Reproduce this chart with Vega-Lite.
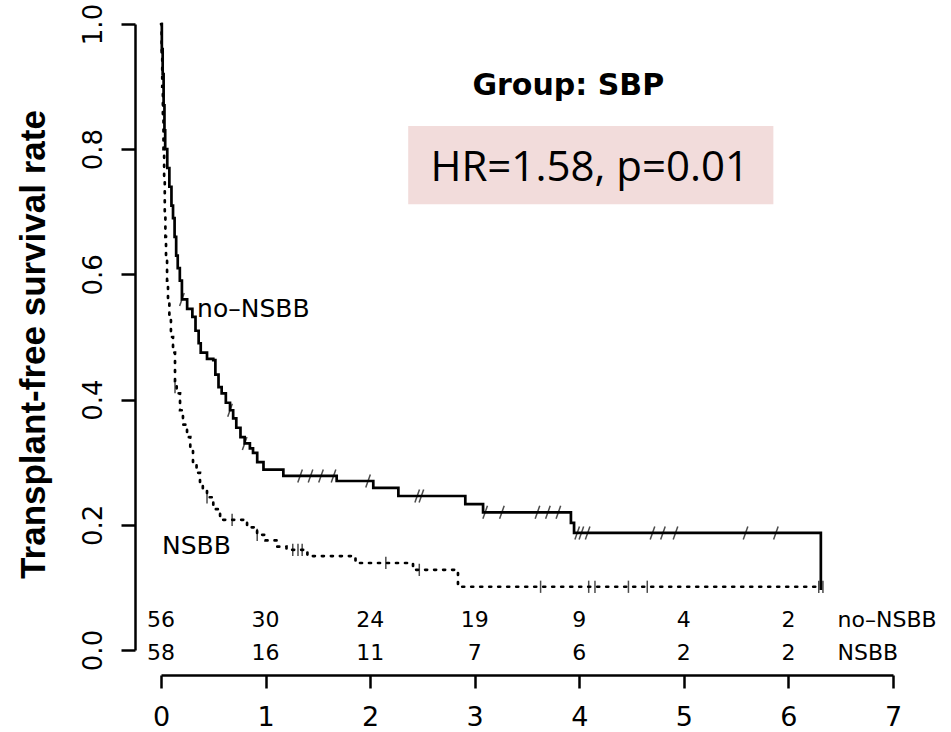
{
  "$schema": "https://vega.github.io/schema/vega-lite/v6.json",
  "width": 732,
  "height": 626,
  "autosize": {"type": "none"},
  "padding": {"left": 161, "top": 24, "right": 58, "bottom": 82},
  "background": "white",
  "config": {"view": {"stroke": null}, "axis": {"grid": false}},
  "datasets": {
    "km": [
      {"group": "no-NSBB", "time": 0, "surv": 1.0},
      {"group": "no-NSBB", "time": 0.008, "surv": 0.96},
      {"group": "no-NSBB", "time": 0.016, "surv": 0.92},
      {"group": "no-NSBB", "time": 0.025, "surv": 0.87},
      {"group": "no-NSBB", "time": 0.033, "surv": 0.83},
      {"group": "no-NSBB", "time": 0.04, "surv": 0.8},
      {"group": "no-NSBB", "time": 0.06, "surv": 0.77},
      {"group": "no-NSBB", "time": 0.08, "surv": 0.74},
      {"group": "no-NSBB", "time": 0.1, "surv": 0.71},
      {"group": "no-NSBB", "time": 0.115, "surv": 0.69},
      {"group": "no-NSBB", "time": 0.13, "surv": 0.66},
      {"group": "no-NSBB", "time": 0.145, "surv": 0.63},
      {"group": "no-NSBB", "time": 0.16, "surv": 0.61},
      {"group": "no-NSBB", "time": 0.18, "surv": 0.59},
      {"group": "no-NSBB", "time": 0.2, "surv": 0.56},
      {"group": "no-NSBB", "time": 0.25, "surv": 0.545},
      {"group": "no-NSBB", "time": 0.3, "surv": 0.532},
      {"group": "no-NSBB", "time": 0.33, "surv": 0.51},
      {"group": "no-NSBB", "time": 0.36, "surv": 0.49},
      {"group": "no-NSBB", "time": 0.38, "surv": 0.475},
      {"group": "no-NSBB", "time": 0.44, "surv": 0.465},
      {"group": "no-NSBB", "time": 0.5, "surv": 0.463},
      {"group": "no-NSBB", "time": 0.52, "surv": 0.44},
      {"group": "no-NSBB", "time": 0.55, "surv": 0.42},
      {"group": "no-NSBB", "time": 0.58, "surv": 0.41},
      {"group": "no-NSBB", "time": 0.62, "surv": 0.395},
      {"group": "no-NSBB", "time": 0.66, "surv": 0.383},
      {"group": "no-NSBB", "time": 0.69, "surv": 0.37},
      {"group": "no-NSBB", "time": 0.72, "surv": 0.355},
      {"group": "no-NSBB", "time": 0.76, "surv": 0.34},
      {"group": "no-NSBB", "time": 0.8, "surv": 0.33},
      {"group": "no-NSBB", "time": 0.85, "surv": 0.322},
      {"group": "no-NSBB", "time": 0.88, "surv": 0.315},
      {"group": "no-NSBB", "time": 0.92, "surv": 0.3},
      {"group": "no-NSBB", "time": 0.98, "surv": 0.288},
      {"group": "no-NSBB", "time": 1.17, "surv": 0.278},
      {"group": "no-NSBB", "time": 1.68, "surv": 0.27},
      {"group": "no-NSBB", "time": 2.03, "surv": 0.259},
      {"group": "no-NSBB", "time": 2.27, "surv": 0.246},
      {"group": "no-NSBB", "time": 2.91, "surv": 0.233},
      {"group": "no-NSBB", "time": 3.08, "surv": 0.22},
      {"group": "no-NSBB", "time": 3.92, "surv": 0.203},
      {"group": "no-NSBB", "time": 3.95, "surv": 0.187},
      {"group": "no-NSBB", "time": 6.31, "surv": 0.096},
      {"group": "NSBB", "time": 0, "surv": 1.0},
      {"group": "NSBB", "time": 0.006, "surv": 0.95},
      {"group": "NSBB", "time": 0.012, "surv": 0.9},
      {"group": "NSBB", "time": 0.018, "surv": 0.85},
      {"group": "NSBB", "time": 0.024, "surv": 0.8},
      {"group": "NSBB", "time": 0.03, "surv": 0.75},
      {"group": "NSBB", "time": 0.036, "surv": 0.7},
      {"group": "NSBB", "time": 0.042, "surv": 0.66},
      {"group": "NSBB", "time": 0.048, "surv": 0.63},
      {"group": "NSBB", "time": 0.058, "surv": 0.59},
      {"group": "NSBB", "time": 0.067, "surv": 0.56},
      {"group": "NSBB", "time": 0.08, "surv": 0.53},
      {"group": "NSBB", "time": 0.095, "surv": 0.5},
      {"group": "NSBB", "time": 0.115, "surv": 0.475},
      {"group": "NSBB", "time": 0.134, "surv": 0.43},
      {"group": "NSBB", "time": 0.15, "surv": 0.41},
      {"group": "NSBB", "time": 0.182, "surv": 0.383},
      {"group": "NSBB", "time": 0.21, "surv": 0.36},
      {"group": "NSBB", "time": 0.249, "surv": 0.34},
      {"group": "NSBB", "time": 0.28, "surv": 0.32},
      {"group": "NSBB", "time": 0.306, "surv": 0.3},
      {"group": "NSBB", "time": 0.34, "surv": 0.283},
      {"group": "NSBB", "time": 0.373, "surv": 0.267},
      {"group": "NSBB", "time": 0.4, "surv": 0.255},
      {"group": "NSBB", "time": 0.44, "surv": 0.244},
      {"group": "NSBB", "time": 0.5, "surv": 0.225},
      {"group": "NSBB", "time": 0.565, "surv": 0.208},
      {"group": "NSBB", "time": 0.823, "surv": 0.196},
      {"group": "NSBB", "time": 0.919, "surv": 0.184},
      {"group": "NSBB", "time": 1.0, "surv": 0.175},
      {"group": "NSBB", "time": 1.11, "surv": 0.165},
      {"group": "NSBB", "time": 1.2, "surv": 0.16},
      {"group": "NSBB", "time": 1.4, "surv": 0.15},
      {"group": "NSBB", "time": 1.86, "surv": 0.139},
      {"group": "NSBB", "time": 2.41, "surv": 0.128},
      {"group": "NSBB", "time": 2.84, "surv": 0.101},
      {"group": "NSBB", "time": 6.31, "surv": 0.101}
    ],
    "censor": [
      {"group": "no-NSBB", "time": 0.2, "surv": 0.56},
      {"group": "no-NSBB", "time": 0.66, "surv": 0.383},
      {"group": "no-NSBB", "time": 0.8, "surv": 0.33},
      {"group": "no-NSBB", "time": 1.33, "surv": 0.278},
      {"group": "no-NSBB", "time": 1.43, "surv": 0.278},
      {"group": "no-NSBB", "time": 1.53, "surv": 0.278},
      {"group": "no-NSBB", "time": 1.65, "surv": 0.278},
      {"group": "no-NSBB", "time": 1.98, "surv": 0.27},
      {"group": "no-NSBB", "time": 2.45, "surv": 0.246},
      {"group": "no-NSBB", "time": 2.49, "surv": 0.246},
      {"group": "no-NSBB", "time": 3.1, "surv": 0.22},
      {"group": "no-NSBB", "time": 3.26, "surv": 0.22},
      {"group": "no-NSBB", "time": 3.6, "surv": 0.22},
      {"group": "no-NSBB", "time": 3.7, "surv": 0.22},
      {"group": "no-NSBB", "time": 3.8, "surv": 0.22},
      {"group": "no-NSBB", "time": 3.98, "surv": 0.187},
      {"group": "no-NSBB", "time": 4.02, "surv": 0.187},
      {"group": "no-NSBB", "time": 4.08, "surv": 0.187},
      {"group": "no-NSBB", "time": 4.7, "surv": 0.187},
      {"group": "no-NSBB", "time": 4.8, "surv": 0.187},
      {"group": "no-NSBB", "time": 4.92, "surv": 0.187},
      {"group": "no-NSBB", "time": 5.59, "surv": 0.187},
      {"group": "no-NSBB", "time": 5.88, "surv": 0.187},
      {"group": "NSBB", "time": 0.134, "surv": 0.42},
      {"group": "NSBB", "time": 0.44, "surv": 0.244},
      {"group": "NSBB", "time": 0.68, "surv": 0.208},
      {"group": "NSBB", "time": 0.92, "surv": 0.184},
      {"group": "NSBB", "time": 1.26, "surv": 0.16},
      {"group": "NSBB", "time": 1.31, "surv": 0.16},
      {"group": "NSBB", "time": 1.35, "surv": 0.16},
      {"group": "NSBB", "time": 2.15, "surv": 0.139},
      {"group": "NSBB", "time": 2.47, "surv": 0.128},
      {"group": "NSBB", "time": 3.63, "surv": 0.101},
      {"group": "NSBB", "time": 4.09, "surv": 0.101},
      {"group": "NSBB", "time": 4.15, "surv": 0.101},
      {"group": "NSBB", "time": 4.47, "surv": 0.101},
      {"group": "NSBB", "time": 4.65, "surv": 0.101},
      {"group": "NSBB", "time": 6.29, "surv": 0.101},
      {"group": "NSBB", "time": 6.33, "surv": 0.101}
    ],
    "risk": [
      {"group": "no-NSBB", "time": 0, "n": 56},
      {"group": "no-NSBB", "time": 1, "n": 30},
      {"group": "no-NSBB", "time": 2, "n": 24},
      {"group": "no-NSBB", "time": 3, "n": 19},
      {"group": "no-NSBB", "time": 4, "n": 9},
      {"group": "no-NSBB", "time": 5, "n": 4},
      {"group": "no-NSBB", "time": 6, "n": 2},
      {"group": "NSBB", "time": 0, "n": 58},
      {"group": "NSBB", "time": 1, "n": 16},
      {"group": "NSBB", "time": 2, "n": 11},
      {"group": "NSBB", "time": 3, "n": 7},
      {"group": "NSBB", "time": 4, "n": 6},
      {"group": "NSBB", "time": 5, "n": 2},
      {"group": "NSBB", "time": 6, "n": 2}
    ]
  },
  "layer": [
    {
      "data": {"values": [{"label": "HR=1.58, p=0.01"}]},
      "mark": {"type": "rect", "color": "#F2DCDB"},
      "encoding": {
        "x": {"datum": 2.364, "type": "quantitative", "scale": {"domain": [0, 7]},
          "axis": {"title": null, "values": [0, 1, 2, 3, 4, 5, 6, 7], "format": "d", "offset": 25, "domainWidth": 2.5, "domainColor": "#000", "tickColor": "#000", "tickWidth": 2.5, "tickSize": 13, "labelFont": "DejaVu Sans", "labelFontSize": 27, "labelColor": "#000", "labelPadding": 16, "labelFlush": false, "labelOverlap": false, "grid": false}},
        "x2": {"datum": 5.856},
        "y": {"datum": 0.837, "type": "quantitative", "scale": {"domain": [0, 1], "nice": false, "zero": false},
          "axis": {"title": "Transplant-free survival rate", "values": [0, 0.2, 0.4, 0.6, 0.8, 1], "format": ".1f", "offset": 26, "domainWidth": 2.5, "domainColor": "#000", "tickColor": "#000", "tickWidth": 2.5, "tickSize": 14, "labelAngle": -90, "labelAlign": "center", "labelBaseline": "alphabetic", "labelPadding": 20, "labelFont": "DejaVu Sans", "labelFontSize": 26, "labelColor": "#000", "labelFlush": false, "labelOverlap": false, "titleFont": "Liberation Sans", "titleFontSize": 35, "titleFontWeight": "bold", "titleColor": "#000", "titleAngle": -90, "titleBaseline": "alphabetic", "titleAlign": "center", "titleX": -91, "titleY": 320, "grid": false}},
        "y2": {"datum": 0.712}
      }
    },
    {
      "data": {"values": [{"label": "HR=1.58, p=0.01"}]},
      "mark": {"type": "text", "font": "Open Sans", "fontSize": 42, "align": "center", "baseline": "alphabetic", "color": "#000"},
      "encoding": {
        "x": {"datum": 4.1, "type": "quantitative"},
        "y": {"datum": 0.749, "type": "quantitative"},
        "text": {"field": "label"}
      }
    },
    {
      "data": {"values": [{"label": "Group: SBP"}]},
      "mark": {"type": "text", "font": "DejaVu Sans", "fontWeight": "bold", "fontSize": 30, "align": "center", "baseline": "alphabetic", "color": "#000"},
      "encoding": {
        "x": {"datum": 3.895, "type": "quantitative"},
        "y": {"datum": 0.887, "type": "quantitative"},
        "text": {"field": "label"}
      }
    },
    {
      "data": {"name": "km"},
      "transform": [{"filter": "datum.group === 'no-NSBB'"}],
      "mark": {"type": "line", "interpolate": "step-after", "color": "#000", "strokeWidth": 2.7},
      "encoding": {
        "x": {"field": "time", "type": "quantitative"},
        "y": {"field": "surv", "type": "quantitative"}
      }
    },
    {
      "data": {"name": "km"},
      "transform": [{"filter": "datum.group === 'NSBB'"}],
      "mark": {"type": "line", "interpolate": "step-after", "color": "#000", "strokeWidth": 2.7, "strokeDash": [2, 7], "strokeCap": "round"},
      "encoding": {
        "x": {"field": "time", "type": "quantitative"},
        "y": {"field": "surv", "type": "quantitative"}
      }
    },
    {
      "data": {"name": "censor"},
      "transform": [{"filter": "datum.group === 'no-NSBB'"}],
      "mark": {"type": "point", "shape": "M-0.35,1L0.35,-1", "filled": false, "stroke": "#000", "strokeWidth": 1.5, "size": 170},
      "encoding": {
        "x": {"field": "time", "type": "quantitative"},
        "y": {"field": "surv", "type": "quantitative"}
      }
    },
    {
      "data": {"name": "censor"},
      "transform": [{"filter": "datum.group === 'NSBB'"}],
      "mark": {"type": "point", "shape": "M0,-1L0,1", "filled": false, "stroke": "#000", "strokeWidth": 1.5, "size": 150},
      "encoding": {
        "x": {"field": "time", "type": "quantitative"},
        "y": {"field": "surv", "type": "quantitative"}
      }
    },
    {
      "data": {"values": [{"label": "no–NSBB"}]},
      "mark": {"type": "text", "font": "DejaVu Sans", "fontSize": 25, "align": "left", "baseline": "alphabetic", "color": "#000"},
      "encoding": {
        "x": {"datum": 0.345, "type": "quantitative"},
        "y": {"datum": 0.532, "type": "quantitative"},
        "text": {"field": "label"}
      }
    },
    {
      "data": {"values": [{"label": "NSBB"}]},
      "mark": {"type": "text", "font": "DejaVu Sans", "fontSize": 25, "align": "left", "baseline": "alphabetic", "color": "#000"},
      "encoding": {
        "x": {"datum": 0.01, "type": "quantitative"},
        "y": {"datum": 0.153, "type": "quantitative"},
        "text": {"field": "label"}
      }
    },
    {
      "data": {"name": "risk"},
      "transform": [{"filter": "datum.group === 'no-NSBB'"}],
      "mark": {"type": "text", "font": "DejaVu Sans", "fontSize": 22, "align": "center", "baseline": "alphabetic", "color": "#000"},
      "encoding": {
        "x": {"field": "time", "type": "quantitative"},
        "y": {"datum": 0.037, "type": "quantitative"},
        "text": {"field": "n"}
      }
    },
    {
      "data": {"name": "risk"},
      "transform": [{"filter": "datum.group === 'NSBB'"}],
      "mark": {"type": "text", "font": "DejaVu Sans", "fontSize": 22, "align": "center", "baseline": "alphabetic", "color": "#000"},
      "encoding": {
        "x": {"field": "time", "type": "quantitative"},
        "y": {"datum": -0.016, "type": "quantitative"},
        "text": {"field": "n"}
      }
    },
    {
      "data": {"values": [{"label": "no–NSBB"}]},
      "mark": {"type": "text", "font": "DejaVu Sans", "fontSize": 22, "align": "left", "baseline": "alphabetic", "color": "#000"},
      "encoding": {
        "x": {"datum": 6.47, "type": "quantitative"},
        "y": {"datum": 0.037, "type": "quantitative"},
        "text": {"field": "label"}
      }
    },
    {
      "data": {"values": [{"label": "NSBB"}]},
      "mark": {"type": "text", "font": "DejaVu Sans", "fontSize": 22, "align": "left", "baseline": "alphabetic", "color": "#000"},
      "encoding": {
        "x": {"datum": 6.47, "type": "quantitative"},
        "y": {"datum": -0.016, "type": "quantitative"},
        "text": {"field": "label"}
      }
    }
  ]
}
